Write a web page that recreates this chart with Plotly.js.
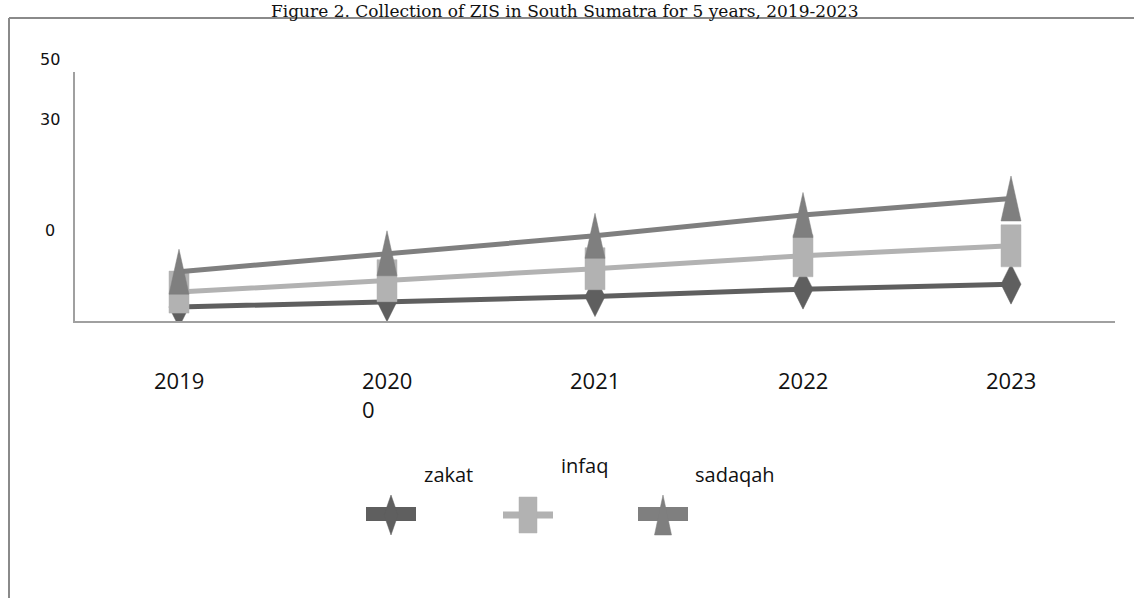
<!DOCTYPE html>
<html><head><meta charset="utf-8">
<script src="https://cdn.plot.ly/plotly-3.0.1.min.js"></script>
<style>html,body{margin:0;padding:0;background:#fff;} #chart{width:1134px;height:598px;}</style>
</head><body><div id="chart"></div>
<script>
// ---- data ----
const years = [2019, 2020, 2021, 2022, 2023];
const xTickLabels = ['2019', '2020<br>0', '2021', '2022', '2023'];
const seriesNames = ['zakat', 'infaq', 'sadaqah'];
const zakat = [2.8, 3.9, 4.9, 6.4, 7.4];
const infaq = [5.8, 8.1, 10.5, 13.1, 15.1];
const sadaqah = [9.9, 13.6, 17.1, 21.3, 24.6];
const yTickText = ['50', '30', '0'];
const yTickVals = [52.6, 40.4, 18.1];
const titleText = 'Figure 2. Collection of ZIS in South Sumatra for 5 years, 2019-2023';

// ---- layout constants ----
const W = 1134, H = 598;
const M = {l: 75, r: 19, t: 72, b: 277};
const PW = W - M.l - M.r, PH = H - M.t - M.b;
const XR = [2018.5, 2023.5], YR = [0, 50];
const unitX = (XR[1] - XR[0]) / PW, unitY = (YR[1] - YR[0]) / PH; // data units per px
const px2x = p => (p - M.l) / PW;
const py2y = p => (H - M.b - p) / PH;
const v2paperY = v => (v - YR[0]) / (YR[1] - YR[0]);

const colors = {zakat: '#5f5f5f', infaq: '#b2b2b2', sadaqah: '#7f7f7f'};
const kinds = {zakat: 'diamond', infaq: 'square', sadaqah: 'triangle'};
const markerDims = {zakat: [10, 20], infaq: [10, 21], sadaqah: [10, 22.5]};
const legendDims = {zakat: [7, 20], infaq: [9, 18], sadaqah: [8.5, 20]};
const values = {zakat, infaq, sadaqah};

function glyph(kind, cx, cy, dx, dy) {
  if (kind === 'diamond') return [[cx, cx + dx, cx, cx - dx, cx], [cy + dy, cy, cy - dy, cy, cy + dy]];
  if (kind === 'square') return [[cx - dx, cx + dx, cx + dx, cx - dx, cx - dx], [cy - dy, cy - dy, cy + dy, cy + dy, cy - dy]];
  return [[cx - dx, cx + dx, cx, cx - dx], [cy - dy, cy - dy, cy + dy, cy - dy]];
}

const traces = [];
seriesNames.forEach(name => {
  const ys = values[name];
  traces.push({type: 'scatter', mode: 'lines', x: years, y: ys, name: name,
    line: {color: colors[name], width: 5}, showlegend: false, hoverinfo: 'x+y+name'});
  const X = [], Y = [];
  const [hw, hh] = markerDims[name];
  years.forEach((yr, i) => {
    const g = glyph(kinds[name], yr, ys[i], hw * unitX, hh * unitY);
    X.push(...g[0], null); Y.push(...g[1], null);
  });
  traces.push({type: 'scatter', mode: 'lines', x: X, y: Y, fill: 'toself',
    fillcolor: colors[name], line: {color: colors[name], width: 0.5},
    showlegend: false, hoverinfo: 'skip'});
});

const shapes = [
  // frame
  {type: 'line', xref: 'paper', yref: 'paper', x0: px2x(9), x1: px2x(9), y0: py2y(18), y1: py2y(600), line: {color: '#8a8a8a', width: 2}},
  {type: 'line', xref: 'paper', yref: 'paper', x0: px2x(9), x1: px2x(1136), y0: py2y(18), y1: py2y(18), line: {color: '#8a8a8a', width: 2}},
];

// legend (manual)
const legendItems = [
  {name: 'zakat', bar: [366, 416, 514, 14], mark: [391, 515], label: [422, 474]},
  {name: 'infaq', bar: [503, 553, 515, 7], mark: [528, 515], label: [559, 465]},
  {name: 'sadaqah', bar: [638, 688, 514, 14], mark: [663, 515], label: [693, 474]},
];
const annotations = [];
legendItems.forEach(it => {
  const c = colors[it.name];
  shapes.push({type: 'line', xref: 'paper', yref: 'paper', x0: px2x(it.bar[0]), x1: px2x(it.bar[1]),
    y0: py2y(it.bar[2]), y1: py2y(it.bar[2]), line: {color: c, width: it.bar[3]}});
  const [hw, hh] = legendDims[it.name];
  const g = glyph(kinds[it.name], px2x(it.mark[0]), py2y(it.mark[1]), hw / PW, hh / PH);
  const path = g[0].map((x, i) => (i ? 'L' : 'M') + x.toFixed(5) + ',' + g[1][i].toFixed(5)).join(' ') + ' Z';
  shapes.push({type: 'path', xref: 'paper', yref: 'paper', path: path, fillcolor: c, line: {color: c, width: 0.5}});
  annotations.push({xref: 'paper', yref: 'paper', x: px2x(it.label[0]), y: py2y(it.label[1]),
    xanchor: 'left', yanchor: 'middle', showarrow: false, text: it.name,
    font: {family: 'Open Sans, Noto Sans, sans-serif', size: 20, color: '#111'}});
});

// x tick labels
years.forEach((yr, i) => {
  annotations.push({xref: 'x', yref: 'paper', x: yr, y: py2y(363), xanchor: 'center', yanchor: 'top',
    align: 'left', showarrow: false, text: xTickLabels[i],
    font: {family: 'Open Sans, Noto Sans, sans-serif', size: 22, color: '#111'}});
});
// y tick labels (placed by data value, drawn in paper space so they may sit above the axis)
yTickVals.forEach((v, i) => {
  annotations.push({xref: 'paper', yref: 'paper', x: px2x(50), y: v2paperY(v), xanchor: 'center', yanchor: 'middle',
    showarrow: false, text: yTickText[i],
    font: {family: 'DejaVu Sans, sans-serif', size: 16, color: '#111'}});
});
// title
annotations.push({xref: 'paper', yref: 'paper', x: px2x(565), y: py2y(0), xanchor: 'center', yanchor: 'top',
  showarrow: false, text: titleText, borderpad: 0,
  font: {family: 'DejaVu Serif, Liberation Serif, serif', size: 17, color: '#111'}});

const layout = {
  width: W, height: H, margin: M,
  paper_bgcolor: '#fff', plot_bgcolor: '#fff',
  showlegend: false,
  xaxis: {type: 'linear', range: XR, showgrid: false, zeroline: false, showticklabels: false, ticks: '',
    showline: true, linecolor: '#a0a0a0', linewidth: 2},
  yaxis: {range: YR, showgrid: false, zeroline: false, showticklabels: false, ticks: '',
    showline: true, linecolor: '#a0a0a0', linewidth: 2},
  shapes: shapes,
  annotations: annotations,
};
Plotly.newPlot('chart', traces, layout, {displayModeBar: false, staticPlot: true});
</script></body></html>
